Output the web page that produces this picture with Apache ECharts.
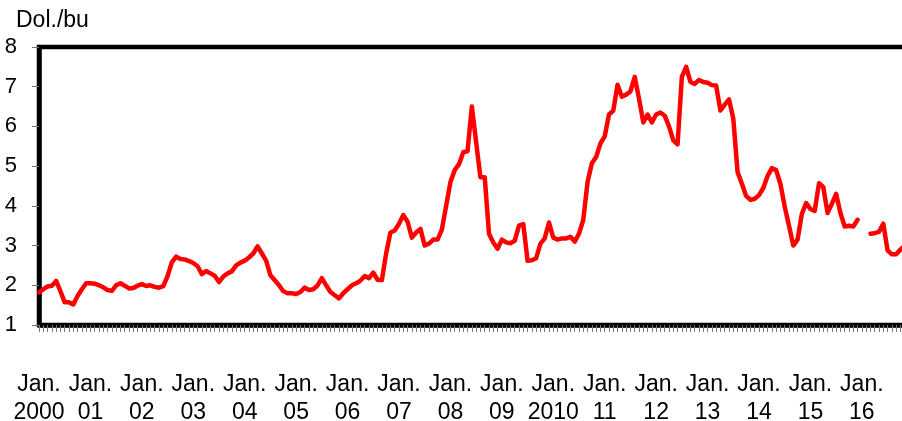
<!DOCTYPE html>
<html>
<head>
<meta charset="utf-8">
<script src="https://cdn.jsdelivr.net/npm/echarts@6/dist/echarts.min.js"></script>
<style>html,body{margin:0;padding:0;background:#fff;}#c{width:902px;height:421px;}</style>
</head>
<body>
<div id="c"></div>
<script>
// Monthly prices, Jan 2000 onward (Dol./bu)
const years = ['2000','01','02','03','04','05','06','07','08','09','2010','11','12','13','14','15','16'];
const v2000 = [1.82,1.90,1.97,1.99,2.11,1.85,1.57,1.57,1.52,1.73,1.90,2.05];
const v2001 = [2.05,2.04,2.00,1.95,1.88,1.86,2.00,2.05,1.99,1.92,1.93,1.99];
const v2002 = [2.03,1.98,2.00,1.96,1.94,1.98,2.23,2.58,2.72,2.66,2.65,2.61];
const v2003 = [2.56,2.48,2.28,2.36,2.30,2.24,2.08,2.22,2.30,2.35,2.50,2.57];
const v2004 = [2.62,2.70,2.80,2.98,2.80,2.62,2.25,2.13,2.00,1.85,1.80,1.80];
const v2005 = [1.78,1.83,1.94,1.88,1.90,2.00,2.18,2.00,1.83,1.75,1.67,1.80];
const v2006 = [1.90,2.00,2.05,2.12,2.23,2.18,2.32,2.14,2.13,2.80,3.33,3.38];
const v2007 = [3.55,3.77,3.60,3.20,3.33,3.42,3.00,3.05,3.15,3.15,3.40,4.00];
const v2008 = [4.60,4.90,5.05,5.35,5.38,6.50,5.60,4.72,4.72,3.30,3.08,2.92];
const v2009 = [3.15,3.08,3.06,3.12,3.50,3.54,2.62,2.63,2.68,3.05,3.18,3.58];
const v2010 = [3.20,3.15,3.18,3.18,3.22,3.10,3.30,3.65,4.60,5.07,5.23,5.57];
const v2011 = [5.75,6.30,6.40,7.05,6.75,6.80,6.88,7.25,6.70,6.10,6.30,6.10];
const v2012 = [6.30,6.35,6.27,6.00,5.65,5.55,7.25,7.50,7.12,7.07,7.17,7.12];
const v2013 = [7.10,7.04,7.03,6.40,6.55,6.68,6.20,4.85,4.56,4.25,4.15,4.18];
const v2014 = [4.27,4.45,4.75,4.95,4.90,4.55,3.98,3.50,3.00,3.15,3.80,4.07];
const v2015 = [3.92,3.87,4.57,4.47,3.82,4.05,4.30,3.82,3.48,3.50,3.48,3.65];
const v2016 = [null,null,3.30,3.31,3.35,3.55,2.88,2.78,2.78,2.90,3.00,null];

const values = [].concat(v2000,v2001,v2002,v2003,v2004,v2005,v2006,v2007,v2008,v2009,v2010,v2011,v2012,v2013,v2014,v2015,v2016);
const categories = [];
for (let y = 0; y < years.length; y++) {
  for (let m = 0; m < 12; m++) {
    categories.push(m === 0 ? 'Jan.\n' + years[y] : '');
  }
}

const FONT = '"Liberation Sans", Arial, sans-serif';
const chart = echarts.init(document.getElementById('c'), null, {renderer: 'canvas'});
chart.setOption({
  animation: false,
  backgroundColor: '#fff',
  title: {
    text: 'Dol./bu', left: 16, top: 9, padding: 0,
    textStyle: {fontFamily: FONT, fontSize: 23, fontWeight: 'normal', color: '#000'}
  },
  grid: {
    left: 39, top: 47, bottom: 96, right: -7,
    outerBoundsMode: 'none', containLabel: false,
    show: true, borderColor: '#000', borderWidth: 4.5, backgroundColor: 'transparent'
  },
  xAxis: {
    type: 'category',
    data: categories,
    boundaryGap: false,
    axisLine: {show: true, lineStyle: {color: '#000', width: 4.5}},
    axisTick: {show: true, interval: 0, length: 7, lineStyle: {color: '#777', width: 1}},
    axisLabel: {
      interval: function (i) { return i % 12 === 0; },
      margin: 46,
      fontFamily: FONT, fontSize: 23, color: '#000', lineHeight: 28, align: 'center'
    },
    splitLine: {show: false}
  },
  yAxis: {
    type: 'value', min: 1, max: 8, interval: 1,
    axisLine: {show: true, lineStyle: {color: '#000', width: 4.5}},
    axisTick: {show: true, length: 7, lineStyle: {color: '#777', width: 1}},
    axisLabel: {margin: 22, fontFamily: FONT, fontSize: 22, color: '#000'},
    splitLine: {show: false}
  },
  series: [{
    type: 'line',
    data: values,
    showSymbol: false,
    connectNulls: false,
    lineStyle: {color: '#ff0000', width: 4.5, join: 'round', cap: 'round'},
    itemStyle: {color: '#ff0000'}
  }]
});
</script>
</body>
</html>
